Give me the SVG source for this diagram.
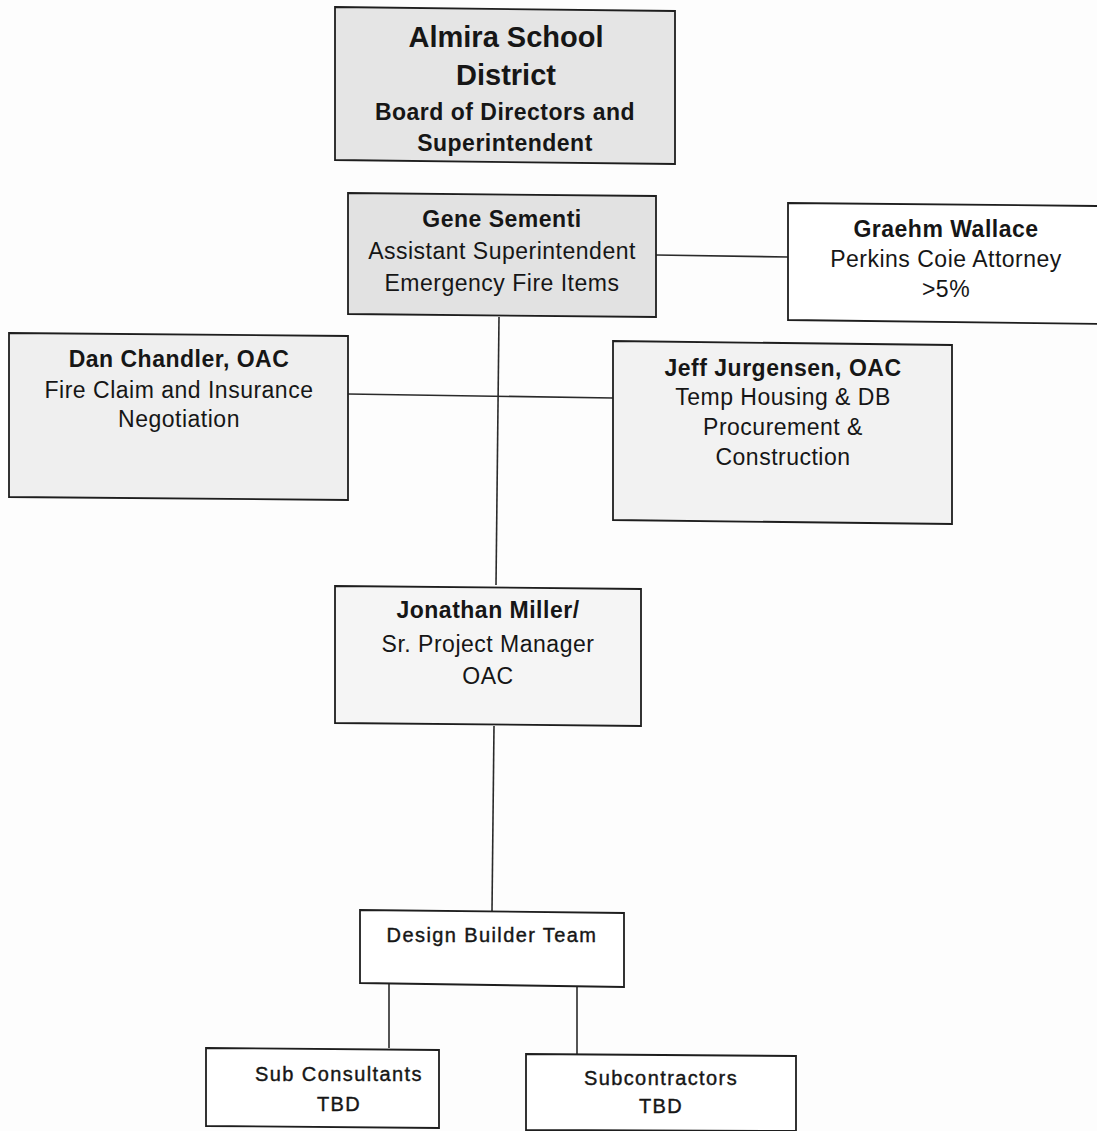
<svg xmlns="http://www.w3.org/2000/svg" width="1097" height="1131" viewBox="0 0 1097 1131">
<style>
  .box { stroke: #1e1e1e; stroke-width: 1.8; }
  .conn line { stroke: #2a2a2a; stroke-width: 1.6; }
  text { font-family: "Liberation Sans", Arial, sans-serif; fill: #161616; text-anchor: middle; }
  .h1 { font-size: 29px; font-weight: bold; }
  .h2 { font-size: 23px; font-weight: bold; letter-spacing: 0.5px; }
  .t { font-size: 23px; font-weight: bold; letter-spacing: 0.5px; }
  .r { font-size: 23px; letter-spacing: 0.5px; }
  .s { font-size: 20px; letter-spacing: 1.4px; stroke: #161616; stroke-width: 0.4; }
</style>
<rect width="1097" height="1131" fill="#fdfdfd"/>
<g class="conn" id="connectors">
  <line x1="656" y1="255" x2="788" y2="257"/>
  <line x1="499" y1="317" x2="496" y2="585"/>
  <line x1="348" y1="394" x2="613" y2="398"/>
  <line x1="494" y1="726" x2="492" y2="911"/>
  <line x1="389" y1="984" x2="389" y2="1048"/>
  <line x1="577" y1="986" x2="577" y2="1055"/>
</g>
<g id="almira">
  <polygon class="box" fill="#e5e5e5" points="335,7 675,11 675,164 335,160"/>
  <text class="h1" x="506" y="47">Almira School</text>
  <text class="h1" x="506" y="85">District</text>
  <text class="h2" x="505" y="120">Board of Directors and</text>
  <text class="h2" x="505" y="151">Superintendent</text>
</g>
<g id="gene">
  <polygon class="box" fill="#e2e2e2" points="348,193 656,196 656,317 348,314"/>
  <text class="t" x="502" y="227">Gene Sementi</text>
  <text class="r" x="502" y="259">Assistant Superintendent</text>
  <text class="r" x="502" y="291">Emergency Fire Items</text>
</g>
<g id="graehm">
  <polygon class="box" fill="#ffffff" points="788,203 1099,206 1099,324 788,320"/>
  <text class="t" x="946" y="237">Graehm Wallace</text>
  <text class="r" x="946" y="267">Perkins Coie Attorney</text>
  <text class="r" x="946" y="297">&gt;5%</text>
</g>
<g id="dan">
  <polygon class="box" fill="#efefef" points="9,333 348,336 348,500 9,497"/>
  <text class="t" x="179" y="367">Dan Chandler, OAC</text>
  <text class="r" x="179" y="398">Fire Claim and Insurance</text>
  <text class="r" x="179" y="427">Negotiation</text>
</g>
<g id="jeff">
  <polygon class="box" fill="#f2f2f2" points="613,341 952,345 952,524 613,520"/>
  <text class="t" x="783" y="376">Jeff Jurgensen, OAC</text>
  <text class="r" x="783" y="405">Temp Housing &amp; DB</text>
  <text class="r" x="783" y="435">Procurement &amp;</text>
  <text class="r" x="783" y="465">Construction</text>
</g>
<g id="jonathan">
  <polygon class="box" fill="#f5f5f5" points="335,586 641,589 641,726 335,723"/>
  <text class="t" x="488" y="618">Jonathan Miller/</text>
  <text class="r" x="488" y="652">Sr. Project Manager</text>
  <text class="r" x="488" y="684">OAC</text>
</g>
<g id="design-builder">
  <polygon class="box" fill="#ffffff" points="360,910 624,913 624,987 360,983"/>
  <text class="s" x="492" y="942">Design Builder Team</text>
</g>
<g id="sub-consultants">
  <polygon class="box" fill="#ffffff" points="206,1048 439,1050 439,1128 206,1126"/>
  <text class="s" x="339" y="1081">Sub Consultants</text>
  <text class="s" x="339" y="1111">TBD</text>
</g>
<g id="subcontractors">
  <polygon class="box" fill="#ffffff" points="526,1054 796,1056 796,1131 526,1130"/>
  <text class="s" x="661" y="1085">Subcontractors</text>
  <text class="s" x="661" y="1113">TBD</text>
</g>
</svg>
